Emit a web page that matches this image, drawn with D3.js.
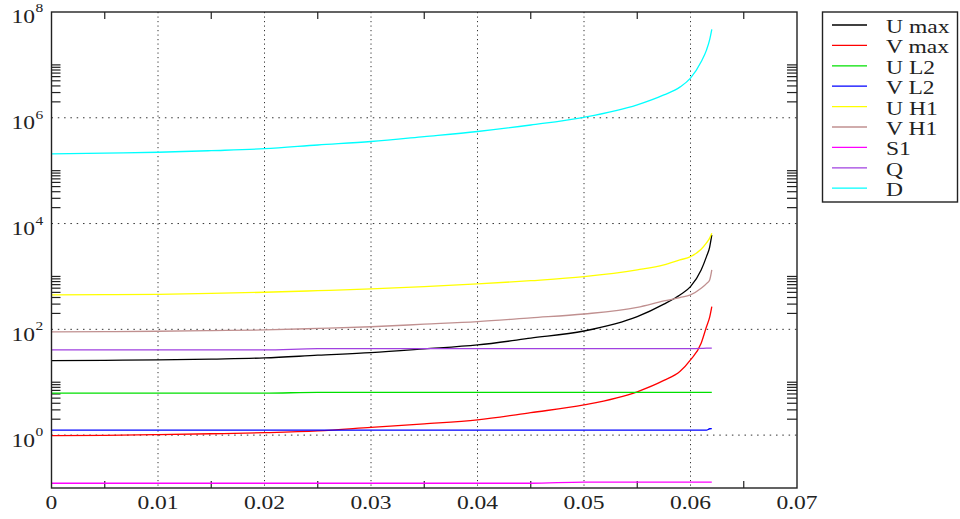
<!DOCTYPE html>
<html><head><meta charset="utf-8">
<script src="https://cdn.jsdelivr.net/npm/d3@7"></script>
<style>body{margin:0;background:#fff;} svg{display:block;}</style>
</head><body>
<svg id="chart" width="960" height="519"></svg>
<script>
const xs = [0, 0.005, 0.01, 0.015, 0.02, 0.025, 0.03, 0.035, 0.04, 0.045, 0.05, 0.055, 0.0575, 0.059, 0.06, 0.061, 0.0615, 0.0618, 0.062];
const uMax = [25.6, 26, 26.4, 27.4, 28.8, 32.4, 36.3, 42.6, 50.7, 68, 93, 174, 300, 447, 641, 1327, 2370, 3600, 6090];
const vMax = [0.98, 0.99, 1.02, 1.06, 1.11, 1.2, 1.4, 1.63, 1.94, 2.66, 3.72, 6.6, 10.8, 15.9, 26.4, 54.6, 112, 170, 269];
const uL2 = [6.2, 6.2, 6.2, 6.2, 6.2, 6.45, 6.45, 6.45, 6.45, 6.45, 6.45, 6.45, 6.45, 6.45, 6.45, 6.45, 6.45, 6.45, 6.45];
const vL2 = [1.24, 1.24, 1.24, 1.24, 1.24, 1.24, 1.24, 1.24, 1.24, 1.24, 1.24, 1.24, 1.24, 1.24, 1.24, 1.24, 1.24, 1.32, 1.33];
const uH1 = [447, 452, 460, 478, 502, 538, 580, 640, 721, 830, 991, 1330, 1650, 2050, 2370, 3270, 4300, 5300, 6560];
const vH1 = [89.3, 90.5, 92, 94.5, 97.5, 104, 112, 125, 140, 165, 195, 261, 344, 398, 447, 598, 730, 860, 1327];
const s1 = [0.123, 0.123, 0.123, 0.123, 0.123, 0.123, 0.123, 0.123, 0.123, 0.123, 0.129, 0.129, 0.129, 0.129, 0.129, 0.129, 0.129, 0.129, 0.129];
const qv = [40.8, 40.8, 40.8, 40.8, 40.8, 43, 43, 43, 43, 43, 43, 43, 43, 43, 43, 43.5, 44, 44, 44];
const dv = [2.07e5, 2.15e5, 2.23e5, 2.39e5, 2.6e5, 3.06e5, 3.56e5, 4.4e5, 5.5e5, 7.3e5, 1.02e6, 1.75e6, 2.7e6, 3.8e6, 5.6e6, 1.15e7, 1.9e7, 3.0e7, 4.7e7];

const seriesNames = ["U max", "V max", "U L2", "V L2", "U H1", "V H1", "S1", "Q", "D"];
const seriesColors = ["#000000", "#ff0000", "#00e000", "#0000ff", "#ffff00", "#c09090", "#ff00ff", "#a040e0", "#00ffff"];
const seriesValues = [uMax, vMax, uL2, vL2, uH1, vH1, s1, qv, dv];

const xTicks = [0, 0.01, 0.02, 0.03, 0.04, 0.05, 0.06, 0.07];
const xTickLabels = ["0", "0.01", "0.02", "0.03", "0.04", "0.05", "0.06", "0.07"];
const xMinorTicks = [0.005, 0.015, 0.025, 0.035, 0.045, 0.055, 0.065];
const yMajorExps = [0, 2, 4, 6, 8];

const FONT = "'Liberation Serif', 'Times New Roman', Times, 'DejaVu Serif', serif";
const svg = d3.select("#chart");
const L = 51.5, R = 797, T = 12, B = 488;
const x = d3.scaleLinear().domain([0, 0.07]).range([L, R]);
const y = d3.scaleLog().domain([0.1, 1e8]).range([B, T]);
const SX = 1.24;

function stretchedText(g, str, tx, ty, anchor, size) {
  return g.append("g").attr("transform", `translate(${tx},${ty}) scale(${SX},1)`)
    .append("text").attr("text-anchor", anchor).attr("font-size", size)
    .attr("font-family", FONT).attr("fill", "#222").text(str);
}

// grid
const grid = svg.append("g").attr("stroke", "#333").attr("stroke-width", 1);
xTicks.slice(1, -1).forEach(v => {
  grid.append("line").attr("x1", x(v)).attr("x2", x(v)).attr("y1", T).attr("y2", B)
    .attr("stroke-dasharray", "1.2,3.3");
});
yMajorExps.slice(0, -1).forEach(e => {
  grid.append("line").attr("x1", L).attr("x2", R).attr("y1", y(Math.pow(10, e))).attr("y2", y(Math.pow(10, e)))
    .attr("stroke-dasharray", "1.5,4.8");
});

// minor ticks
const ticks = svg.append("g").attr("stroke", "#222").attr("stroke-width", 1.2);
xMinorTicks.forEach(v => {
  ticks.append("line").attr("x1", x(v)).attr("x2", x(v)).attr("y1", B).attr("y2", B - 7);
  ticks.append("line").attr("x1", x(v)).attr("x2", x(v)).attr("y1", T).attr("y2", T + 7);
});
yMajorExps.slice(0, -1).forEach(e => {
  for (let k = 2; k <= 10; k++) {
    const yy = y(k * Math.pow(10, e));
    ticks.append("line").attr("x1", L).attr("x2", L + 9).attr("y1", yy).attr("y2", yy);
    ticks.append("line").attr("x1", R).attr("x2", R - 10).attr("y1", yy).attr("y2", yy);
  }
});

// series
const line = d3.line().x((d, i) => x(xs[i])).y(d => y(d)).curve(d3.curveMonotoneX);
const plot = svg.append("g");
seriesValues.forEach((vals, i) => {
  plot.append("path").attr("d", line(vals)).attr("fill", "none")
    .attr("stroke", seriesColors[i]).attr("stroke-width", 1.3);
});

// frame
svg.append("rect").attr("x", L).attr("y", T).attr("width", R - L).attr("height", B - T)
  .attr("fill", "none").attr("stroke", "#222").attr("stroke-width", 1.4);

// x labels
xTicks.forEach((v, i) => {
  stretchedText(svg, xTickLabels[i], x(v), 509, "middle", 19);
});
// y labels
yMajorExps.forEach(e => {
  const gy = y(Math.pow(10, e));
  const by = e === 8 ? 22.7 : gy + 11.5;
  stretchedText(svg, "10", 35, by, "end", 19);
  stretchedText(svg, String(e), 35.5, by - 10.5, "start", 12.5);
});

// legend
const lg = svg.append("g");
lg.append("rect").attr("x", 822.5).attr("y", 12).attr("width", 135).attr("height", 190)
  .attr("fill", "#fff").attr("stroke", "#222").attr("stroke-width", 1.4);
seriesNames.forEach((n, i) => {
  const yy = 25 + i * 20.4;
  lg.append("line").attr("x1", 832).attr("x2", 867).attr("y1", yy).attr("y2", yy)
    .attr("stroke", seriesColors[i]).attr("stroke-width", 1.3);
  stretchedText(lg, n, 886, yy + 8, "start", 19);
});
</script>
</body></html>
